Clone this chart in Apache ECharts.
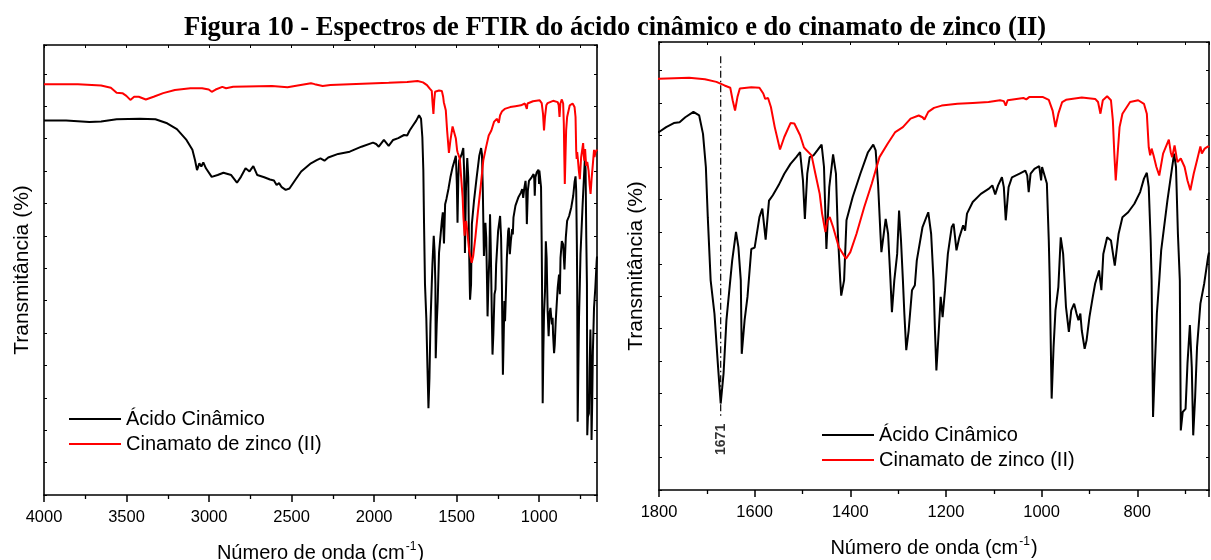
<!DOCTYPE html>
<html>
<head>
<meta charset="utf-8">
<script src="https://cdn.jsdelivr.net/npm/echarts@6/dist/echarts.min.js"></script>
<style>
html,body{margin:0;padding:0;background:#fff;}
#chart{width:1211px;height:560px;}
</style>
</head>
<body>
<div id="chart"></div>
<script>
// ---- Data (wavenumber in cm-1, transmittance in arbitrary %) ----
const titleText = 'Figura 10 - Espectros de FTIR do ácido cinâmico e do cinamato de zinco (II)';
const seriesNames = ['Ácido Cinâmico', 'Cinamato de zinco (II)'];
const yName = 'Transmitância (%)';

const acidoWn = [4000,3866,3725,3654,3560,3419,3325,3254,3195,3137,3101,3085,3073,3059,3047,3035,3019,2984,2948,2913,2866,2854,2831,2807,2779,2755,2732,2708,2666,2631,2607,2591,2576,2560,2536,2513,2478,2442,2383,2348,2325,2301,2278,2218,2148,2077,2007,1988,1972,1941,1912,1885,1854,1819,
1800,1785,1769,1757,1745,1728,1716,1708,1702,1698,1692,1684,1677,1671,1665,1659,1651,1647,1639,1634,1629,1627,1621,1615,1607,1600,1590,1584,1577,1570,1562,1550,1538,1525,1513,1505,1499,1495,1490,1485,1477,1469,1460,1455,1450,1444,1436,1430,1426,1421,1419,1413,1408,1395,1379,1363,1352,1347,1342,1337,1335,1330,1326,1321,1316,1313,1308,1302,1298,1294,1290,1287,1283,1278,1271,1265,1261,1249,1237,1231,1226,1223,1220,1215,1211,1207,1202,1196,1188,1184,1178,1172,1164,1160,1156,1144,1127,1111,1103,1097,1091,1083,1079,1075,1069,1062,1046,1034,1030,1027,1023,1015,1005,1001,999,995,989,985,983,979,975,971,965,960,955,952,949,943,938,932,927,923,919,916,910,906,900,893,888,880,875,871,863,855,847,839,831,819,806,794,786,780,776,772,770,767,763,759,754,750,737,723,719,715,711,709,705,699,695,690,686,683,679,675,668,660,652,650];
const acidoT = [83.2,83.2,82.9,83.0,83.5,83.6,83.5,82.6,81.3,78.9,76.7,74.4,72.2,73.7,73.0,73.9,72.6,70.7,71.1,71.6,71.1,71.5,69.4,70.7,72.6,71.9,73.1,71.1,70.6,70.1,69.9,68.9,69.3,68.4,67.8,68.1,70.0,71.9,73.7,74.4,74.8,74.3,75.0,75.8,76.3,77.4,78.3,78.0,77.4,78.9,77.6,78.9,79.3,80.0,
79.9,81.0,81.9,82.1,83.2,84.4,83.6,79.5,72.1,60.9,46.8,39.3,28.2,19.3,26.0,37.9,46.8,51.2,57.6,54.2,46.8,30.4,37.9,43.1,53.8,54.1,60.9,62.8,55.9,64.6,65.8,68.0,70.6,72.8,74.3,75.4,69.1,60.5,70.6,74.3,74.7,75.8,77.1,72.1,53.8,67.6,74.9,70.6,57.2,46.8,43.4,46.8,60.2,65.4,70.6,75.4,77.1,75.8,68.4,57.2,53.1,57.2,60.5,57.2,46.8,39.7,46.8,52.7,62.4,55.7,46.8,39.4,31.2,35.6,44.6,45.7,51.2,58.7,62.0,57.2,46.8,35.6,26.7,35.6,43.1,38.6,44.6,52.7,58.7,59.4,53.5,56.4,59.1,57.9,61.7,64.3,66.1,67.2,68.0,66.0,68.0,69.8,67.6,60.2,67.6,69.8,70.6,71.3,70.2,66.5,70.6,71.7,72.3,69.1,72.1,72.3,68.4,55.7,46.8,20.4,31.9,40.1,45.3,56.4,52.7,46.8,40.8,35.3,40.1,41.6,39.4,37.9,39.4,35.6,31.5,33.4,38.6,43.1,46.1,49.0,44.6,52.7,56.4,55.7,50.1,57.2,60.9,62.0,63.9,66.5,69.5,70.8,67.6,55.7,46.8,16.3,28.2,39.4,46.8,53.5,64.6,75.1,72.1,57.2,46.8,13.3,17.4,18.1,28.2,36.8,27.4,12.2,20.7,31.9,41.6,46.1,52.0,53.0];

const zincoWn = [4000,3795,3654,3595,3560,3525,3501,3477,3454,3426,3383,3336,3278,3207,3113,3042,3002,2984,2960,2920,2897,2854,2619,2525,2383,2371,2360,2312,2265,2148,1912,
1800,1737,1704,1680,1663,1651,1646,1641,1636,1631,1607,1590,1582,1578,1572,1566,1558,1547,1538,1525,1517,1505,1497,1493,1489,1481,1473,1464,1459,1452,1448,1443,1436,1424,1409,1400,1387,1371,1355,1339,1322,1306,1290,1274,1257,1249,1245,1237,1225,1209,1176,1144,1111,1087,1079,1075,1071,1038,1032,1026,997,985,977,971,965,957,949,916,888,882,877,872,863,855,851,848,845,841,837,831,815,798,786,780,776,773,770,766,760,754,746,734,730,727,722,716,709,701,695,689,682,675,668,665,659,652,650];
const zincoT = [91.3,91.3,91.0,90.5,89.4,89.3,88.7,87.8,88.5,88.5,87.9,88.5,89.3,90.0,90.4,90.4,90.1,89.6,90.1,90.7,90.4,90.7,90.9,90.6,91.5,91.9,91.3,90.9,91.1,91.3,91.6,
91.8,92.0,91.7,91.1,90.3,89.8,87.0,84.7,87.7,89.6,89.9,89.8,88.5,87.3,87.5,85.5,81.0,76.0,78.8,81.9,81.8,79.2,76.5,76.0,76.2,74.7,70.6,66.1,61.7,57.6,60.2,60.9,58.7,54.2,51.6,53.1,57.2,63.1,68.4,74.3,77.3,79.9,81.0,82.9,83.6,83.2,82.7,84.4,85.3,85.8,86.2,86.4,86.6,87.0,86.8,85.8,87.0,87.5,87.2,87.7,87.7,87.1,84.7,81.0,84.0,86.6,87.1,87.6,87.3,86.6,84.0,87.0,87.9,87.0,82.5,75.1,69.1,75.1,81.0,84.0,86.6,87.0,86.2,84.0,76.5,74.7,76.2,74.7,72.1,70.2,75.1,78.2,75.4,74.3,76.9,73.2,74.0,72.1,69.1,66.9,70.6,73.6,76.7,75.1,76.2,76.7,76.5];

// Peak marker on the right panel
const peakWn = [1671, 1671];
const peakT = [96.8, 16.5];
const peakLabelT = 11.3;
const peakLabel = '1671';

const pairs = (xs, ys) => xs.map((x, i) => [x, ys[i]]);
const acido = pairs(acidoWn, acidoT);
const zinco = pairs(zincoWn, zincoT);

const SANS = 'Liberation Sans';
const xName = '{a|Número de onda (cm}{s|-1}{a|)}';
const xNameStyle = {
  color: '#000', fontFamily: SANS,
  rich: {
    a: { fontSize: 20, fontFamily: SANS, color: '#000', lineHeight: 22, verticalAlign: 'bottom' },
    s: { fontSize: 12, fontFamily: SANS, color: '#000', lineHeight: 22, verticalAlign: 'top', padding: [0, 1, 8, 1] }
  }
};

function bottomX(grid, min, max, gap) {
  return {
    gridIndex: grid, type: 'value', min: min, max: max, inverse: true, position: 'bottom',
    axisLine: { onZero: false, lineStyle: { color: '#000', width: 1.6 } },
    axisTick: { inside: false, length: 7, lineStyle: { color: '#000', width: 1.5 } },
    minorTick: { show: true, splitNumber: 2, length: 4, lineStyle: { color: '#000', width: 1.3 } },
    splitLine: { show: false },
    axisLabel: { showMinLabel: false, fontSize: 16.5, color: '#000', fontFamily: SANS, margin: 14,
      formatter: v => String(v) },
    name: xName, nameLocation: 'middle', nameGap: gap, nameTextStyle: xNameStyle
  };
}
function topX(grid, min, max) {
  return {
    gridIndex: grid, type: 'value', min: min, max: max, inverse: true, position: 'top',
    axisLine: { onZero: false, lineStyle: { color: '#000', width: 1.6 } },
    axisTick: { inside: true, length: 3, lineStyle: { color: '#000', width: 1 } },
    minorTick: { show: true, splitNumber: 2, length: 3, lineStyle: { color: '#000', width: 1 } },
    splitLine: { show: false }, axisLabel: { show: false }
  };
}
function leftY(grid, gap) {
  return {
    gridIndex: grid, type: 'value', min: 0, max: 100, interval: 7.2, position: 'left',
    axisLine: { show: true, onZero: false, lineStyle: { color: '#000', width: 1.6 } },
    axisTick: { inside: true, length: 3, lineStyle: { color: '#000', width: 1 } },
    splitLine: { show: false }, axisLabel: { show: false },
    name: yName, nameLocation: 'middle', nameGap: gap,
    nameTextStyle: { fontSize: 21, fontFamily: SANS, color: '#000' }
  };
}
function rightY(grid) {
  return {
    gridIndex: grid, type: 'value', min: 0, max: 100, interval: 7.2, position: 'right',
    axisLine: { show: true, onZero: false, lineStyle: { color: '#000', width: 1.6 } },
    axisTick: { inside: true, length: 3, lineStyle: { color: '#000', width: 1 } },
    splitLine: { show: false }, axisLabel: { show: false }
  };
}
function curve(name, data, color, xi, yi) {
  return {
    name: name, type: 'line', data: data, xAxisIndex: xi, yAxisIndex: yi,
    symbol: 'none', showSymbol: false, clip: true, silent: true,
    lineStyle: { color: color, width: 2 }, itemStyle: { color: color }
  };
}
function legendAt(left, top) {
  return {
    data: seriesNames, left: left, top: top, orient: 'vertical', icon: 'rect',
    itemWidth: 52, itemHeight: 2, itemGap: 5,
    textStyle: { fontSize: 20, fontFamily: SANS, color: '#000', lineHeight: 20 }
  };
}

const option = {
  animation: false,
  backgroundColor: '#fff',
  title: {
    text: titleText, left: 179, top: 10,
    textStyle: { fontFamily: 'Liberation Serif', fontWeight: 'bold', fontSize: 26.5, color: '#000' }
  },
  legend: [legendAt(64, 404), legendAt(817, 420)],
  grid: [
    { left: 44, top: 45, width: 553, height: 450, containLabel: false, outerBoundsMode: 'none' },
    { left: 659, top: 42, width: 550, height: 448, containLabel: false, outerBoundsMode: 'none' }
  ],
  xAxis: [
    bottomX(0, 650, 4000, 46), topX(0, 650, 4000),
    bottomX(1, 650, 1800, 46), topX(1, 650, 1800)
  ],
  yAxis: [
    leftY(0, 11), rightY(0),
    leftY(1, 12), rightY(1)
  ],
  series: [
    curve(seriesNames[0], acido, '#000', 0, 0),
    curve(seriesNames[1], zinco, '#ff0000', 0, 0),
    curve(seriesNames[0], acido, '#000', 2, 2),
    curve(seriesNames[1], zinco, '#ff0000', 2, 2),
    {
      type: 'line', xAxisIndex: 2, yAxisIndex: 2, silent: true, symbol: 'none',
      data: pairs(peakWn, peakT),
      lineStyle: { color: '#000', width: 1.2, type: [7, 3, 1.5, 3] }
    },
    {
      type: 'scatter', xAxisIndex: 2, yAxisIndex: 2, silent: true, symbolSize: 2,
      itemStyle: { color: 'rgba(0,0,0,0)' },
      data: [[peakWn[0], peakLabelT]],
      label: {
        show: true, position: 'inside', formatter: peakLabel, rotate: 90,
        fontSize: 14, fontWeight: 'bold', fontFamily: SANS, color: '#000'
      }
    }
  ]
};

const chart = echarts.init(document.getElementById('chart'), null, { renderer: 'canvas' });
chart.setOption(option);
</script>
</body>
</html>
